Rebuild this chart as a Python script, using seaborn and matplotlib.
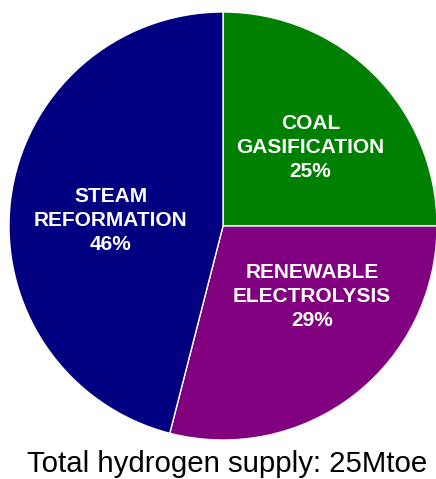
import matplotlib
matplotlib.use("Agg")
import matplotlib.pyplot as plt
import seaborn as sns
import numpy as np

categories = ["COAL\nGASIFICATION", "RENEWABLE\nELECTROLYSIS", "STEAM\nREFORMATION"]
shares = [25, 29, 46]
colors = ["#008000", "#800080", "#000080"]
caption = "Total hydrogen supply: 25Mtoe"

sns.set_theme(style="white")
plt.rcParams['font.family'] = ['Liberation Sans', 'DejaVu Sans']

W, H = 436, 479
fig = plt.figure(figsize=(W / 100, H / 100), dpi=100)
cx, cy, r = 223, 226, 214
ax = fig.add_axes([(cx - r) / W, (H - cy - r) / H, 2 * r / W, 2 * r / H])

wedges, _ = ax.pie(shares, colors=colors, startangle=90, counterclock=False,
                   wedgeprops=dict(edgecolor="white", linewidth=1.0))
ax.set_xlim(-1, 1)
ax.set_ylim(-1, 1)
ax.set_aspect("equal")
ax.axis("off")

# label placement relative to each wedge's mid angle
offsets = [(0.55, -3), (0.53, 14), (0.525, 4.5)]
for w, cat, s, (dist, dang) in zip(wedges, categories, shares, offsets):
    ang = np.deg2rad((w.theta1 + w.theta2) / 2 + dang)
    ax.text(dist * np.cos(ang), dist * np.sin(ang), f"{cat}\n{s}%",
            ha="center", va="center", color="white", fontsize=15,
            fontweight="bold", linespacing=1.33)

fig.text(227 / W, 1 - 464 / H, caption, ha="center", va="center",
         fontsize=21.2, color="black")

fig.savefig("out.png", dpi=100)
